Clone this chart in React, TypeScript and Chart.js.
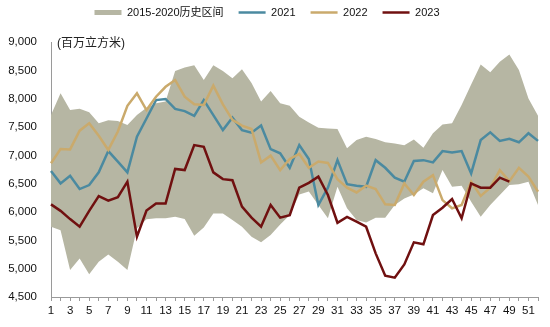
import React, { useEffect, useRef } from 'react';
import { Chart, registerables } from 'chart.js';

Chart.register(...registerables);

const weeks = ['1','2','3','4','5','6','7','8','9','10','11','12','13','14','15','16','17','18','19','20','21','22','23','24','25','26','27','28','29','30','31','32','33','34','35','36','37','38','39','40','41','42','43','44','45','46','47','48','49','50','51','52'];

const bandMax = [7710, 8095, 7800, 7820, 7760, 7565, 7620, 7605, 7535, 7710, 7840, 7920, 7950, 8490, 8550, 8590, 8330, 8590, 8490, 8360, 8520, 8275, 7950, 8135, 7920, 7875, 7680, 7580, 7485, 7475, 7465, 7125, 7270, 7330, 7290, 7230, 7210, 7180, 7280, 7135, 7390, 7545, 7565, 7890, 8250, 8605, 8465, 8650, 8780, 8505, 8005, 7700];
const bandMin = [5740, 5680, 4975, 5180, 4900, 5120, 5250, 5120, 4975, 5710, 5870, 5890, 5890, 5915, 5875, 5580, 5725, 5975, 5975, 5860, 5740, 5565, 5465, 5595, 5780, 5945, 6310, 6360, 6125, 5890, 6445, 6065, 5860, 5815, 5900, 5900, 6125, 6240, 6310, 6420, 6330, 6740, 6445, 6465, 6180, 5915, 6125, 6300, 6475, 6490, 6535, 6125];
const y2021 = [6725, 6505, 6640, 6405, 6475, 6700, 7075, 6890, 6700, 7330, 7650, 7975, 7995, 7820, 7780, 7695, 7975, 7710, 7445, 7665, 7445, 7400, 7525, 7110, 7035, 6780, 7180, 6935, 6125, 6430, 6915, 6490, 6465, 6445, 6915, 6780, 6605, 6535, 6900, 6915, 6875, 7075, 7050, 7075, 6680, 7270, 7405, 7255, 7290, 7230, 7390, 7255];
const y2022 = [6860, 7110, 7105, 7435, 7565, 7345, 7095, 7420, 7875, 8095, 7800, 8035, 8210, 8330, 8035, 7900, 7890, 8230, 7900, 7625, 7525, 7465, 6875, 6995, 6740, 6935, 7025, 6780, 6890, 6865, 6580, 6430, 6345, 6465, 6405, 6135, 6125, 6505, 6300, 6535, 6650, 6210, 6065, 6125, 6535, 6285, 6430, 6740, 6545, 6780, 6625, 6360];
const y2023 = [6135, 6020, 5875, 5740, 6020, 6280, 6200, 6260, 6535, 5565, 6025, 6150, 6150, 6760, 6740, 7180, 7150, 6700, 6580, 6560, 6095, 5900, 5740, 6125, 5900, 5945, 6430, 6515, 6625, 6300, 5810, 5915, 5830, 5740, 5270, 4875, 4840, 5075, 5465, 5430, 5945, 6075, 6230, 5890, 6505, 6430, 6430, 6605, 6535];

const seriesNames = ['2015-2020历史区间', '2021', '2022', '2023'];
const unitLabel = '(百万立方米)';

const BAND = 'rgb(182,182,163)';
const C21 = 'rgb(75,138,160)';
const C22 = 'rgb(202,170,108)';
const C23 = 'rgb(112,16,16)';
const FONT = '"Liberation Sans", Arial, "Noto Sans CJK SC", sans-serif';

export default function App() {
  const ref = useRef<HTMLCanvasElement | null>(null);

  useEffect(() => {
    document.body.style.margin = '0';
    const canvas = ref.current;
    if (!canvas) return;
    Chart.defaults.font.family = FONT;

    const legendPatch = {
      id: 'legendPatch',
      beforeInit(chart: any) {
        const legend = chart.legend;
        if (legend) {
          const fit = legend.fit;
          legend.fit = function () {
            fit.call(this);
            this.height = 42;
          };
        }
      },
      afterLayout(chart: any) {
        const legend = chart.legend;
        if (legend) {
          legend.top = -8;
          legend.left -= 2;
          legend.right -= 2;
        }
      },
      afterDraw(chart: any) {
        const ctx = chart.ctx;
        ctx.save();
        ctx.font = '12px ' + FONT;
        ctx.fillStyle = '#222';
        ctx.textBaseline = 'middle';
        ctx.textAlign = 'left';
        ctx.fillText(unitLabel, 57, 44);
        ctx.restore();
      },
    };

    const chart = new Chart(canvas, {
      type: 'line',
      data: {
        labels: weeks,
        datasets: [
          { label: 'min', data: bandMin, borderWidth: 0, borderColor: 'rgba(0,0,0,0)', pointRadius: 0, fill: false, order: 10 },
          { label: seriesNames[0], data: bandMax, borderWidth: 0, borderColor: 'rgba(0,0,0,0)', backgroundColor: BAND, pointRadius: 0, fill: '-1', order: 9 },
          { label: seriesNames[1], data: y2021, borderColor: C21, borderWidth: 2.5, pointRadius: 0, fill: false, tension: 0, order: 3 },
          { label: seriesNames[2], data: y2022, borderColor: C22, borderWidth: 2.5, pointRadius: 0, fill: false, tension: 0, order: 2 },
          { label: seriesNames[3], data: y2023, borderColor: C23, borderWidth: 2.5, pointRadius: 0, fill: false, tension: 0, order: 1 },
        ],
      },
      options: {
        responsive: false,
        animation: false,
        devicePixelRatio: 1,
        layout: { padding: { left: 0, right: 12, top: 0, bottom: 0 } },
        plugins: {
          tooltip: { enabled: false },
          legend: {
            position: 'top',
            align: 'center',
            labels: {
              usePointStyle: true,
              pointStyleWidth: 27,
              boxHeight: 5,
              padding: 15,
              color: '#111',
              font: { size: 11, family: FONT },
              generateLabels: () => [
                { text: seriesNames[0], fillStyle: BAND, strokeStyle: BAND, lineWidth: 0, pointStyle: 'rect', hidden: false, datasetIndex: 1, fontColor: '#111' },
                { text: seriesNames[1], fillStyle: C21, strokeStyle: C21, lineWidth: 2.5, pointStyle: 'line', hidden: false, datasetIndex: 2, fontColor: '#111' },
                { text: seriesNames[2], fillStyle: C22, strokeStyle: C22, lineWidth: 2.5, pointStyle: 'line', hidden: false, datasetIndex: 3, fontColor: '#111' },
                { text: seriesNames[3], fillStyle: C23, strokeStyle: C23, lineWidth: 2.5, pointStyle: 'line', hidden: false, datasetIndex: 4, fontColor: '#111' },
              ],
            },
          },
        },
        scales: {
          x: {
            type: 'category',
            offset: false,
            grid: { display: true, drawOnChartArea: false, drawTicks: true, tickLength: 4, color: '#9a9a9a' },
            border: { display: true, color: '#9a9a9a', width: 1 },
            ticks: {
              autoSkip: false,
              maxRotation: 0,
              minRotation: 0,
              padding: 3,
              color: '#111',
              font: { size: 11.5, family: FONT },
              callback: (_v: any, i: number) => (i % 2 === 0 ? weeks[i] : ''),
            },
            afterFit: (s: any) => { s.height = 30; },
          },
          y: {
            min: 4500,
            max: 9000,
            grid: { display: false, drawTicks: false, tickLength: 0 },
            border: { display: true, color: '#9a9a9a', width: 1 },
            ticks: {
              stepSize: 500,
              padding: 14,
              color: '#111',
              font: { size: 11.5, family: FONT },
              callback: (v: any) => Number(v).toLocaleString('en-US'),
            },
            afterFit: (s: any) => { s.width = 51; },
          },
        },
      },
      plugins: [legendPatch],
    } as any);

    return () => chart.destroy();
  }, []);

  return (
    <div style={{ width: 550, height: 327 }}>
      <canvas ref={ref} width={550} height={327} style={{ display: 'block' }} />
    </div>
  );
}
